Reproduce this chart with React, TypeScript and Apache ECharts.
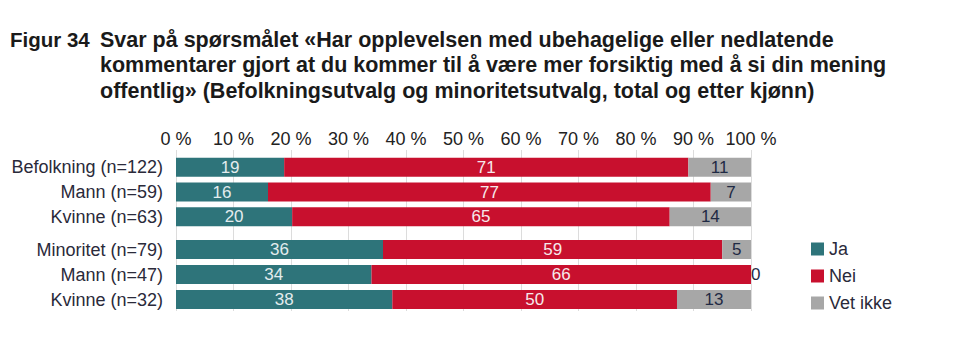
import React, { useEffect, useRef } from "react";
import * as echarts from "echarts";

const titleLabel = "Figur 34";
const titleLines = [
  "Svar på spørsmålet «Har opplevelsen med ubehagelige eller nedlatende",
  "kommentarer gjort at du kommer til å være mer forsiktig med å si din mening",
  "offentlig» (Befolkningsutvalg og minoritetsutvalg, total og etter kjønn)",
];

const categoriesPop = ["Befolkning (n=122)", "Mann (n=59)", "Kvinne (n=63)"];
const categoriesMin = ["Minoritet (n=79)", "Mann (n=47)", "Kvinne (n=32)"];

const jaPop = [19, 16, 20];
const neiPop = [71, 77, 65];
const vetPop = [11, 7, 14];

const jaMin = [36, 34, 38];
const neiMin = [59, 66, 50];
const vetMin = [5, 0, 13];

const seriesNames = ["Ja", "Nei", "Vet ikke"];
const colors = ["#2e747a", "#c8102e", "#a7a7a7"];
const labelColors = ["#e3ecee", "#f6e8eb", "#1f2a44"];

const FONT = "'Liberation Sans', Arial, sans-serif";

function buildSeries(groups: number[][], axisIndex: number) {
  const n = groups[0].length;
  const totals = Array.from({ length: n }, (_, i) =>
    groups.reduce((s, g) => s + g[i], 0)
  );
  return groups.map((g, k) => ({
    name: seriesNames[k],
    type: "bar",
    stack: "s" + axisIndex,
    xAxisIndex: axisIndex,
    yAxisIndex: axisIndex - 1,
    barWidth: 19,
    itemStyle: { color: colors[k] },
    data: g.map((v, i) => {
      const item: any = { value: (v / totals[i]) * 100, raw: v };
      if (v === 0) {
        item.label = { position: "right", distance: 0, color: "#1f2a44" };
      }
      return item;
    }),
    label: {
      show: true,
      position: "inside",
      color: labelColors[k],
      fontSize: 17,
      fontFamily: FONT,
      formatter: (p: any) => String(p.data.raw),
    },
  }));
}

export default function App() {
  const ref = useRef<HTMLDivElement>(null);
  useEffect(() => {
    if (!ref.current) return;
    const chart = echarts.init(ref.current, null, { renderer: "svg" });
    const gridLeft = 176;
    const gridRight = 209;
    const catAxis = (grid: number, data: string[]) => ({
      type: "category",
      gridIndex: grid,
      data,
      inverse: true,
      axisLine: { show: false },
      axisTick: { show: false },
      splitLine: { show: false },
      axisLabel: { fontSize: 18, color: "#2a2a3a", margin: 13, fontFamily: FONT },
    });
    const option: any = {
      animation: false,
      backgroundColor: "#ffffff",
      textStyle: { fontFamily: FONT },
      graphic: [
        {
          type: "text",
          left: 10,
          top: 29,
          style: {
            text: titleLabel,
            font: `bold 20.5px ${FONT}`,
            fill: "#1a1a1a",
          },
        },
        ...titleLines.map((t, i) => ({
          type: "text",
          left: 100,
          top: 28.5 + i * 25.5,
          style: {
            text: t,
            font: `bold 21.5px ${FONT}`,
            fill: "#1a1a1a",
          },
        })),
      ],
      legend: {
        orient: "vertical",
        left: 806,
        top: 235,
        itemWidth: 13,
        itemHeight: 13,
        itemGap: 9,
        icon: "rect",
        data: seriesNames,
        textStyle: { fontSize: 18, color: "#2a2a3a", fontFamily: FONT },
      },
      grid: [
        { left: gridLeft, right: gridRight, top: 150, height: 161 },
        { left: gridLeft, right: gridRight, top: 155, height: 74 },
        { left: gridLeft, right: gridRight, top: 237, height: 75 },
      ],
      xAxis: [
        {
          type: "value",
          gridIndex: 0,
          position: "top",
          min: 0,
          max: 100,
          interval: 10,
          axisLine: { show: false },
          axisTick: { show: false },
          splitLine: { show: true, lineStyle: { color: "#dcdcdc", width: 1 } },
          axisLabel: {
            formatter: "{value} %",
            fontSize: 18,
            color: "#222",
            margin: 2,
            fontFamily: FONT,
          },
        },
        { type: "value", gridIndex: 1, min: 0, max: 100, show: false },
        { type: "value", gridIndex: 2, min: 0, max: 100, show: false },
      ],
      yAxis: [
        catAxis(1, categoriesPop),
        catAxis(2, categoriesMin),
        {
          type: "value",
          gridIndex: 0,
          min: 0,
          max: 1,
          show: false,
        },
      ],
      series: [
        ...buildSeries([jaPop, neiPop, vetPop], 1),
        ...buildSeries([jaMin, neiMin, vetMin], 2),
      ],
    };
    chart.setOption(option);
    return () => chart.dispose();
  }, []);
  return (
    <div
      ref={ref}
      style={{ position: "fixed", left: 0, top: 0, width: 960, height: 358 }}
    />
  );
}
